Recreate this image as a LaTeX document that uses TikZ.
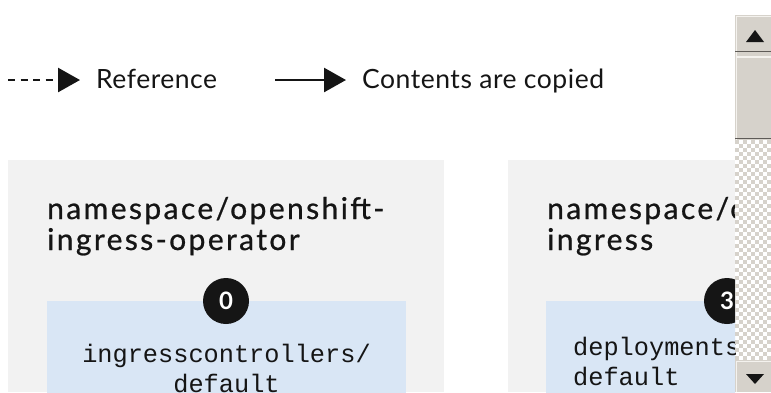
\documentclass[tikz,border=0pt]{standalone}
\usepackage{fontspec}
\setmainfont{Lato}
\setmonofont{Liberation Mono}
\newfontfamily\titlefont{Lato}[FakeBold=0.8, LetterSpace=8]
\newfontfamily\legendfont{Lato}[LetterSpace=2]
\usetikzlibrary{arrows.meta}
\definecolor{panel}{HTML}{F2F2F2}
\definecolor{bluebox}{HTML}{D9E6F5}
\definecolor{ink}{HTML}{151515}
\definecolor{sbgray}{HTML}{D6D2CB}
\definecolor{sblight}{HTML}{F4F2EE}
\definecolor{sbdark}{HTML}{5E5B57}
\begin{document}
\begin{tikzpicture}[x=1pt,y=-1pt,
  titletext/.style={anchor=base west, inner sep=0, font=\titlefont\fontsize{30}{31}\selectfont, text=ink},
  legendtext/.style={anchor=base west, inner sep=0, font=\legendfont\fontsize{26.5}{28}\selectfont, text=ink},
  monotext/.style={inner sep=0, font=\ttfamily\fontsize{25.3}{30}\selectfont, text=ink},
  badge/.style={circle, fill=ink, minimum size=46pt, inner sep=0, text=white, font=\fontsize{24}{24}\selectfont\bfseries},
  legendline/.style={line width=2.6pt, draw=ink, -{Triangle[length=22pt,width=24pt]}},
]
\useasboundingbox (0,0) rectangle (771,392);
\fill[white] (0,0) rectangle (771,392);
% legend
\coordinate (ds) at (8,80);
\coordinate (de) at (80,80);
\coordinate (ss) at (275,80);
\coordinate (se) at (346,80);
\draw[legendline, dash pattern=on 7pt off 5.5pt] (ds) -- (de);
\draw[legendline] (ss) -- (se);
\node[legendtext] (lref) at (96,88) {Reference};
\node[legendtext] (lcopy) at (362,88) {Contents are copied};
% diagram
\begin{scope}
\clip (0,0) rectangle (735,392);
\fill[panel] (8,160) rectangle (444,392);
\fill[panel] (508,160) rectangle (735,392);
\node[titletext] (t1a) at (47,219) {namespace/openshift-};
\node[titletext] (t1b) at (47,250) {ingress-operator};
\node[titletext] (t2a) at (547,219) {namespace/o};
\node[titletext] (t2b) at (547,250) {ingress};
\fill[bluebox] (47,301) rectangle (406,400);
\fill[bluebox] (546,301) rectangle (740,400);
\node[monotext, anchor=base, align=center] (m1) at (226.5,392) {ingresscontrollers/\\default};
\node[monotext, anchor=base west, align=left] (m2) at (573,385) {deployments\\default};
\node[badge] (b0) at (226,301) {0};
\node[badge] (b3) at (727,301) {3};
\end{scope}
% scrollbar
\fill[sbgray] (735,15) rectangle (771,140);
\draw[sblight, line width=1.2pt] (736.5,140) -- (736.5,16.5) -- (771,16.5);
\draw[sblight, line width=1.2pt] (736.5,57) -- (771,57);
\draw[sbdark, line width=1.4pt] (735,51.5) -- (771,51.5);
\draw[sbdark, line width=1.4pt] (735,138.5) -- (771,138.5);
\fill[ink] (746,42) -- (764,42) -- (755,30) -- cycle;
\foreach \i in {0,...,54}{
  \foreach \j in {0,...,8}{
    \pgfmathtruncatemacro{\chk}{mod(\i+\j,2)}
    \ifnum\chk=0 \fill[sbgray] (735+4*\j,140+4*\i) rectangle ++(4,4); \fi
  }
}
\fill[sbgray] (735,360) rectangle (771,392);
\draw[sblight, line width=1.2pt] (736.5,392) -- (736.5,361.5) -- (771,361.5);
\fill[ink] (746,374) -- (764,374) -- (755,384) -- cycle;
\end{tikzpicture}
\end{document}
